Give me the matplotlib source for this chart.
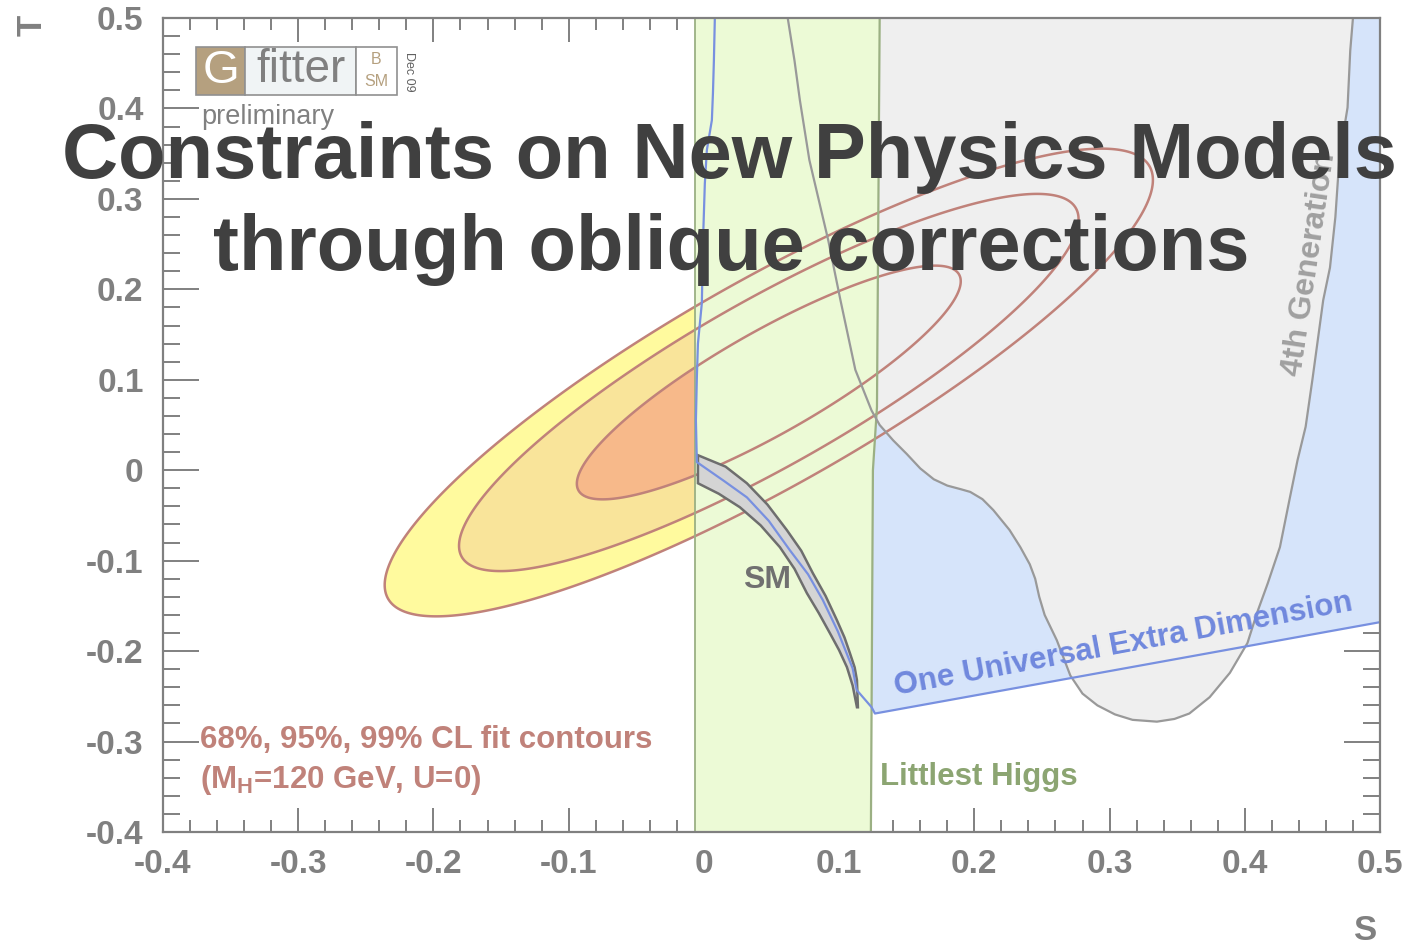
import matplotlib
matplotlib.use("Agg")
import matplotlib.pyplot as plt
import numpy as np
from matplotlib.patches import Polygon, Rectangle

plt.rcParams["font.family"] = ["Liberation Sans", "DejaVu Sans"]

# electroweak fit (U=0, M_H=120 GeV): centre, widths, correlation
fit_S, fit_T = 0.048, 0.097
sig_S, sig_T, rho = 0.0936, 0.0852, 0.866
cl_chi2 = [2.30, 5.99, 9.21]          # 68%, 95%, 99% CL for 2 dof
cl_colors = ["#f7b98a", "#f9e49a", "#fffa9e"]

# Littlest Higgs band
lh_left_S = -0.0065
lh_right_S = [0.130, 0.128, 0.125, 0.1235]
lh_right_T = [0.5, 0.07, 0.0, -0.4]

# 4th generation allowed region (boundary, left side -> right side)
gen4_S = [0.062, 0.067, 0.071, 0.078, 0.092, 0.101, 0.112, 0.124, 0.130, 0.140,
          0.150, 0.160, 0.170, 0.180, 0.190, 0.197, 0.206, 0.214, 0.226, 0.234,
          0.241, 0.245, 0.248, 0.252, 0.261, 0.271, 0.280, 0.291, 0.304, 0.317,
          0.335, 0.348, 0.359, 0.374, 0.389, 0.402, 0.409, 0.417, 0.426, 0.433,
          0.439, 0.445, 0.450, 0.454, 0.458, 0.463, 0.467, 0.470, 0.476, 0.478,
          0.480]
gen4_T = [0.500, 0.453, 0.409, 0.343, 0.254, 0.188, 0.111, 0.066, 0.050, 0.033,
          0.018, 0.002, -0.010, -0.017, -0.021, -0.024, -0.032, -0.044, -0.066, -0.085,
          -0.104, -0.120, -0.140, -0.160, -0.188, -0.227, -0.247, -0.260, -0.270, -0.276,
          -0.278, -0.275, -0.269, -0.251, -0.224, -0.191, -0.158, -0.125, -0.085, -0.033,
          0.011, 0.048, 0.100, 0.144, 0.188, 0.224, 0.280, 0.346, 0.401, 0.464,
          0.500]

# one universal extra dimension boundary
ued_S = [0.0081, 0.0074, 0.0067, 0.0059, 0.0022, 0.0007, -0.0007, -0.0015, -0.0044,
         -0.0052, -0.0059, -0.0052, 0.0150, 0.0318, 0.0480, 0.0636, 0.0770, 0.0880,
         0.0990, 0.1100, 0.1130, 0.1240, 0.1265, 0.5]
ued_T = [0.500, 0.453, 0.417, 0.387, 0.354, 0.317, 0.251, 0.185, 0.140,
         0.103, 0.055, 0.009, -0.012, -0.030, -0.056, -0.0885, -0.115, -0.1437,
         -0.178, -0.219, -0.243, -0.262, -0.269, -0.168]

# SM prediction band (M_H range)
sm_upper_S = [-0.0044, 0.0160, 0.0318, 0.0470, 0.0614, 0.0720, 0.0806, 0.0900,
              0.0984, 0.1040, 0.1080, 0.1115, 0.1132, 0.1139]
sm_upper_T = [0.0166, 0.0040, -0.0144, -0.0380, -0.0663, -0.0890, -0.1139, -0.1390,
              -0.1659, -0.1850, -0.2023, -0.2180, -0.2322, -0.2621]
sm_lower_S = [-0.0044, 0.0110, 0.0266, 0.0420, 0.0562, 0.0670, 0.0762, 0.0850,
              0.0932, 0.1000, 0.1058, 0.1100, 0.1132]
sm_lower_T = [-0.0144, -0.0260, -0.0409, -0.0610, -0.0851, -0.1090, -0.1360, -0.1580,
              -0.1802, -0.1990, -0.2178, -0.2380, -0.2621]

xticks = [-0.4, -0.3, -0.2, -0.1, 0.0, 0.1, 0.2, 0.3, 0.4, 0.5]
xtick_labels = ["-0.4", "-0.3", "-0.2", "-0.1", "0", "0.1", "0.2", "0.3", "0.4", "0.5"]
yticks = [-0.4, -0.3, -0.2, -0.1, 0.0, 0.1, 0.2, 0.3, 0.4, 0.5]
ytick_labels = ["-0.4", "-0.3", "-0.2", "-0.1", "0", "0.1", "0.2", "0.3", "0.4", "0.5"]

W, H = 1408, 948
GREY = "#808080"
CONT = "#c0827a"


def px(x, y):
    return x / W, 1 - y / H


fig = plt.figure(figsize=(W / 100, H / 100), dpi=100)
ax = fig.add_axes([163 / W, 1 - 832 / H, (1380 - 163) / W, (832 - 18) / H])
ax.set_xlim(-0.4, 0.5)
ax.set_ylim(-0.4, 0.5)

# fit contours
s = np.linspace(-0.4, 0.5, 700)
t = np.linspace(-0.4, 0.5, 700)
SS, TT = np.meshgrid(s, t)
dS = (SS - fit_S) / sig_S
dT = (TT - fit_T) / sig_T
chi2 = (dS ** 2 - 2 * rho * dS * dT + dT ** 2) / (1 - rho ** 2)
ax.contourf(SS, TT, chi2, levels=[0] + cl_chi2, colors=cl_colors, zorder=1)
ax.contour(SS, TT, chi2, levels=cl_chi2, colors=CONT, linewidths=1.8, zorder=5)

# UED region
ued_poly = list(zip(ued_S, ued_T)) + [(0.5, 0.5)]
ax.add_patch(Polygon(ued_poly, closed=True, facecolor="#d6e4fa",
                     edgecolor="none", zorder=2))
# 4th generation region
ax.add_patch(Polygon(list(zip(gen4_S, gen4_T)), closed=True, facecolor="#efefef",
                     edgecolor="none", zorder=3))
# Littlest Higgs band
lh_poly = [(lh_left_S, -0.4), (lh_left_S, 0.5)] + list(zip(lh_right_S, lh_right_T))
ax.add_patch(Polygon(lh_poly, closed=True, facecolor="#ecfad6",
                     edgecolor="none", zorder=4))
ax.plot([lh_left_S, lh_left_S], [-0.4, 0.5], color="#9bb083", lw=1.3, zorder=6)
ax.plot(lh_right_S, lh_right_T, color="#9bb083", lw=1.6, zorder=6)

ax.plot(gen4_S, gen4_T, color="#999999", lw=1.6, zorder=6)

# SM band
sm_poly = list(zip(sm_upper_S, sm_upper_T)) + list(zip(sm_lower_S, sm_lower_T))[::-1]
ax.add_patch(Polygon(sm_poly, closed=True, facecolor="#d4d4d4",
                     edgecolor="#6e6e6e", lw=1.8, zorder=7))

ax.plot(ued_S, ued_T, color="#7890e0", lw=1.6, zorder=8)

# labels inside the plot
ax.text(0.0466, -0.1216, "SM", color="#707070", fontsize=23, fontweight="bold",
        ha="center", va="center", zorder=9)
ax.text(0.130, -0.339, "Littlest Higgs", color="#8ca572", fontsize=22.5,
        fontweight="bold", ha="left", va="center", zorder=9)
ax.text(0.310, -0.193, "One Universal Extra Dimension", color="#7088dd",
        fontsize=22.5, fontweight="bold", ha="center", va="center",
        rotation=10.5, rotation_mode="anchor", zorder=9)
ax.text(0.448, 0.228, "4th Generation", color="#a0a0a0", fontsize=23,
        fontweight="bold", ha="center", va="center", rotation=81.5,
        rotation_mode="anchor", zorder=9)
ax.text(-0.3728, -0.2985, "68%, 95%, 99% CL fit contours", color=CONT,
        fontsize=22.5, fontweight="bold", ha="left", va="center", zorder=9)
ax.text(-0.3728, -0.342, r"(M$_\mathregular{H}$=120 GeV, U=0)", color=CONT,
        fontsize=22.5, fontweight="bold", ha="left", va="center", zorder=9)

# axes styling (ROOT-like ticks on all sides)
for sp in ax.spines.values():
    sp.set_color(GREY)
    sp.set_linewidth(1.6)
    sp.set_zorder(10)
ax.set_xticks(xticks)
ax.set_xticklabels(xtick_labels)
ax.set_yticks(yticks)
ax.set_yticklabels(ytick_labels)
ax.set_xticks(np.arange(-0.4, 0.5001, 0.02), minor=True)
ax.set_yticks(np.arange(-0.4, 0.5001, 0.02), minor=True)
ax.tick_params(axis="both", which="both", direction="in", top=True, right=True,
               color=GREY, width=1.4, labelcolor=GREY, labelsize=24)
ax.tick_params(axis="x", which="major", length=17, pad=12)
ax.tick_params(axis="x", which="minor", length=8.5)
ax.tick_params(axis="y", which="major", length=26, pad=14)
ax.tick_params(axis="y", which="minor", length=12)
for lab in ax.get_xticklabels() + ax.get_yticklabels():
    lab.set_fontweight("bold")

fig.text(*px(32, 25), "T", color=GREY, fontsize=25, fontweight="bold",
         rotation=90, ha="center", va="center")
fig.text(*px(1366, 930), "S", color=GREY, fontsize=25, fontweight="bold",
         ha="center", va="center")

# Gfitter logo
fig.add_artist(Rectangle(px(196, 95), 49 / W, 48 / H, transform=fig.transFigure,
                         facecolor="#b5a07f", edgecolor="#909090", lw=1.2))
fig.add_artist(Rectangle(px(245, 95), 111 / W, 48 / H, transform=fig.transFigure,
                         facecolor="#f0f4f5", edgecolor="#909090", lw=1.2))
fig.add_artist(Rectangle(px(356, 95), 41 / W, 48 / H, transform=fig.transFigure,
                         facecolor="white", edgecolor="#909090", lw=1.2))
fig.text(*px(221, 71), "G", color="white", fontsize=34, ha="center", va="center")
fig.text(*px(301, 70), "fitter", color=GREY, fontsize=33, ha="center", va="center")
fig.text(*px(376, 60), "B", color="#b5a07f", fontsize=11.5, ha="center", va="center")
fig.text(*px(376, 81), "SM", color="#b5a07f", fontsize=11.5, ha="center", va="center")
fig.text(*px(409, 72), "Dec 09", color="#606060", fontsize=9, rotation=-90,
         ha="center", va="center")
fig.text(*px(201, 117), "preliminary", color=GREY, fontsize=19.5,
         ha="left", va="center")

# overlaid title
fig.text(*px(730, 178), "Constraints on New Physics Models", color="#404040",
         fontsize=56, fontweight="bold", ha="center", va="baseline", zorder=20)
fig.text(*px(731, 270), "through oblique corrections", color="#404040",
         fontsize=56, fontweight="bold", ha="center", va="baseline", zorder=20)

fig.savefig("out.png", dpi=100)
